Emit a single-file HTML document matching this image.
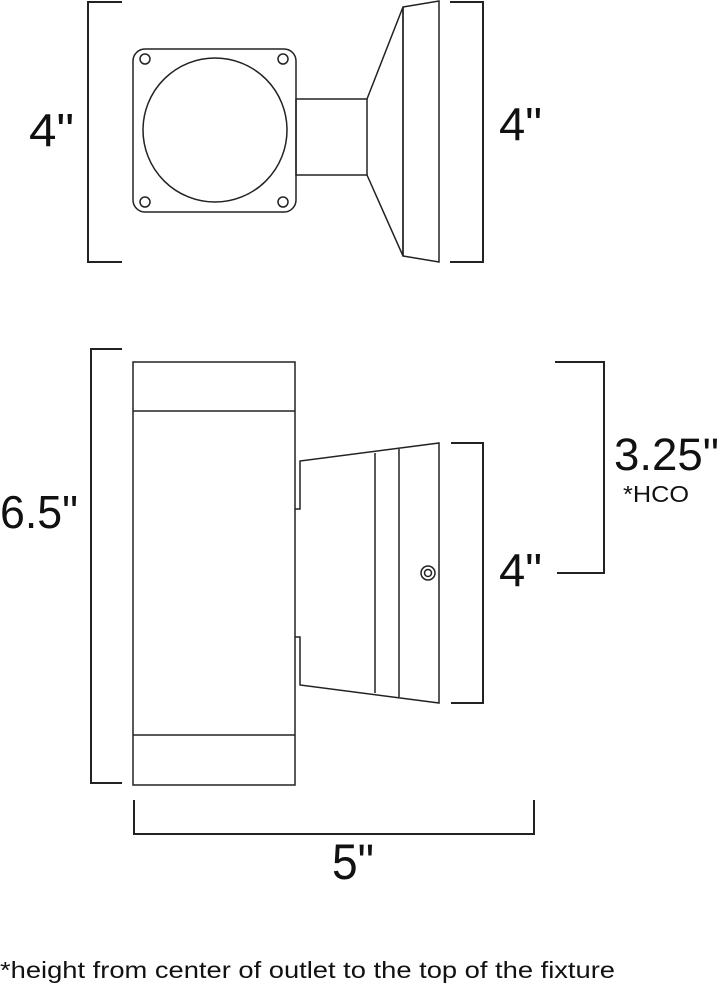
<!DOCTYPE html>
<html><head><meta charset="utf-8"><style>html,body{margin:0;padding:0;background:#fff;}svg{display:block;}</style></head>
<body>
<svg width="720" height="988" viewBox="0 0 720 988" xmlns="http://www.w3.org/2000/svg">
<g fill="none" stroke="#222" stroke-width="1.5">
<!-- top view -->
<rect x="133" y="49" width="163" height="163" rx="12"/>
<circle cx="215" cy="130" r="72"/>
<circle cx="145" cy="59" r="5"/><circle cx="283" cy="59" r="5"/>
<circle cx="145" cy="202" r="5"/><circle cx="283" cy="202" r="5"/>
<rect x="296" y="99" width="71" height="76"/>
<polyline points="367,99 403,7 403,256 367,175"/>
<polygon points="403,7 439,1 439,262 403,256"/>
<!-- side view -->
<rect x="133" y="362" width="162" height="423"/>
<line x1="133" y1="411" x2="295" y2="411"/>
<line x1="133" y1="735" x2="295" y2="735"/>
<polyline points="295,509 300,509 300,461 439,443 439,703 300,685 300,637 295,637"/>
<line x1="375" y1="453" x2="375" y2="693"/>
<line x1="399" y1="449" x2="399" y2="697"/>
<circle cx="428" cy="573" r="7"/><circle cx="428" cy="573" r="3.5"/>
</g>
<g fill="none" stroke="#222" stroke-width="2">
<polyline points="122,2 88,2 88,262 122,262"/>
<polyline points="450,2 483,2 483,262 450,262"/>
<polyline points="122,349 91,349 91,783 122,783"/>
<polyline points="451,443 483,443 483,703 451,703"/>
<polyline points="555,362 604,362 604,573 557,573"/>
<polyline points="134,800 134,834 534,834 534,800"/>
</g>
<g fill="#111" font-family="'Liberation Sans', sans-serif">
<text x="29" y="146" font-size="46" textLength="45" lengthAdjust="spacingAndGlyphs">4"</text>
<text x="499" y="140" font-size="46" textLength="43" lengthAdjust="spacingAndGlyphs">4"</text>
<text x="0" y="528" font-size="46" textLength="78" lengthAdjust="spacingAndGlyphs">6.5"</text>
<text x="614" y="470" font-size="45" textLength="105" lengthAdjust="spacingAndGlyphs">3.25"</text>
<text x="623" y="502" font-size="23" textLength="66" lengthAdjust="spacingAndGlyphs">*HCO</text>
<text x="499" y="586" font-size="46" textLength="43" lengthAdjust="spacingAndGlyphs">4"</text>
<text x="332" y="879" font-size="50" textLength="42" lengthAdjust="spacingAndGlyphs">5"</text>
<text x="0" y="978" font-size="23" textLength="615" lengthAdjust="spacingAndGlyphs">*height from center of outlet to the top of the fixture</text>
</g>
</svg>
</body></html>
